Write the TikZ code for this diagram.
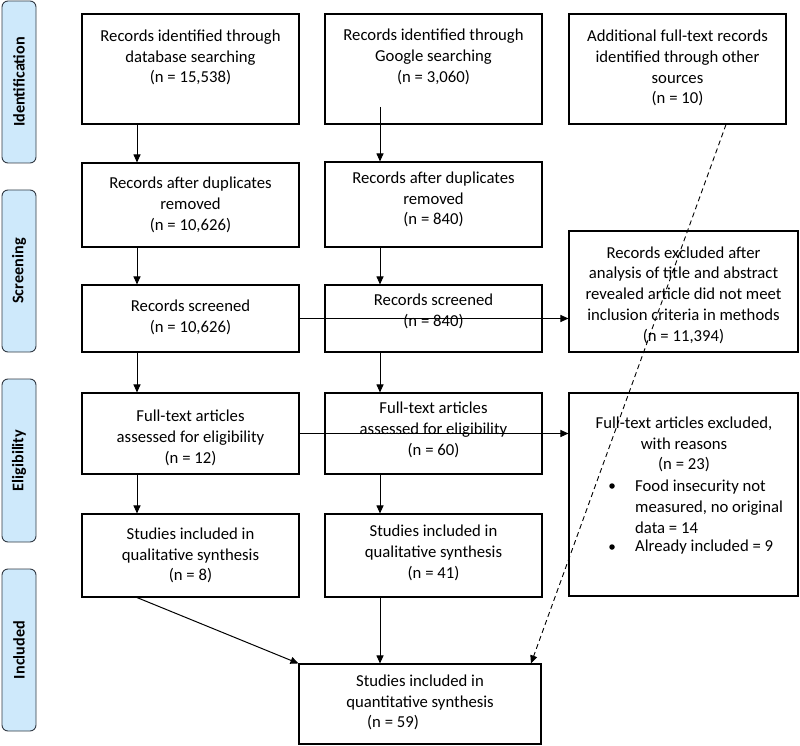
\documentclass[tikz,border=0pt]{standalone}
\usepackage{fontspec}
\setmainfont{Carlito}
\usetikzlibrary{arrows.meta,fit}
\definecolor{sidefill}{RGB}{206,233,251}
\definecolor{sideline}{RGB}{50,58,68}
\tikzset{
  box/.style={draw=black, line width=1.1pt, inner sep=0pt, rectangle},
  sidebar/.style={draw=sideline, fill=sidefill, line width=0.9pt, rounded corners=6pt, inner sep=0pt},
  sidetxt/.style={rotate=90, font=\bfseries\fontsize{16.2}{19}\selectfont, inner sep=0pt},
  txt/.style={align=center, inner sep=0pt, font=\fontsize{16.7}{20.8}\selectfont},
  ltxt/.style={align=left, anchor=west, inner sep=0pt, font=\fontsize{16.7}{20.8}\selectfont},
  dot/.style={circle, fill=black, inner sep=0pt, minimum size=5.5pt},
  arr/.style={line width=1pt, -{Triangle[length=8pt,width=7pt]}},
  darr/.style={line width=0.9pt, dash pattern=on 5pt off 3.5pt, -{Triangle[length=8pt,width=7pt]}}
}
\begin{document}
\begin{tikzpicture}[x=1pt,y=-1pt]
\useasboundingbox (0,0) rectangle (800,746);
% side bars
\node[sidebar, fit={(2,1) (36,163)}] (S1) {};
\node[sidebar, fit={(2,190) (36,352)}] (S2) {};
\node[sidebar, fit={(2,379) (36,542)}] (S3) {};
\node[sidebar, fit={(2,569) (36,731)}] (S4) {};
\node[sidetxt] (S1t) at (S1.center) {Identification};
\node[sidetxt] (S2t) at (S2.center) {Screening};
\node[sidetxt] (S3t) at (S3.center) {Eligibility};
\node[sidetxt] (S4t) at (S4.center) {Included};
% boxes
\node[box, fit={(82,14) (299,124)}] (L1) {};
\node[box, fit={(82,163) (299,247)}] (L2) {};
\node[box, fit={(82,285) (299,352)}] (L3) {};
\node[box, fit={(82,393) (299,474)}] (L4) {};
\node[box, fit={(82,514) (299,597)}] (L5) {};
\node[box, fit={(325,14) (542,124)}] (M1) {};
\node[box, fit={(325,162) (542,247)}] (M2) {};
\node[box, fit={(325,285) (542,352)}] (M3) {};
\node[box, fit={(325,393) (542,474)}] (M4) {};
\node[box, fit={(325,514) (542,597)}] (M5) {};
\node[box, fit={(569,14) (786,124)}] (R1) {};
\node[box, fit={(569,231) (798,352)}] (R2) {};
\node[box, fit={(569,393) (798,596)}] (R3) {};
\node[box, fit={(299,664) (541,744)}] (B) {};
% texts
\node[txt] (L1t) at (190.5,57.5) {Records identified through\\database searching\\{}(n = 15,538)};
\node[txt] (M1t) at (433.5,57) {Records identified through\\Google searching\\{}(n = 3,060)};
\node[txt] (R1t) at (677.5,68) {Additional full-text records\\identified through other\\sources\\{}(n = 10)};
\node[txt] (L2t) at (190.5,205) {Records after duplicates\\removed\\{}(n = 10,626)};
\node[txt] (M2t) at (433.5,199.5) {Records after duplicates\\removed\\{}(n = 840)};
\node[txt] (L3t) at (190.5,317.5) {Records screened\\{}(n = 10,626)};
\node[txt] (M3t) at (433.5,311) {Records screened\\{}(n = 840)};
\node[txt] (R2t) at (683.5,295) {Records excluded after\\analysis of title and abstract\\revealed article did not meet\\inclusion criteria in methods\\{}(n = 11,394)};
\node[txt] (L4t) at (190.5,438) {Full-text articles\\assessed for eligibility\\{}(n = 12)};
\node[txt] (M4t) at (433.5,430) {Full-text articles\\assessed for eligibility\\{}(n = 60)};
\node[txt] (R3t) at (684,444.5) {Full-text articles excluded,\\with reasons\\{}(n = 23)};
\node[ltxt] (R3a) at (635,506.5) {Food insecurity not\\measured, no original\\data = 14};
\node[ltxt] (R3b) at (635,547) {Already included = 9};
\node[dot] (R3d1) at (612,486) {};
\node[dot] (R3d2) at (612,547) {};
\node[txt] (L5t) at (190.5,555.5) {Studies included in\\qualitative synthesis\\{}(n = 8)};
\node[txt] (M5t) at (433.5,553) {Studies included in\\qualitative synthesis\\{}(n = 41)};
\node[txt] (Bt) at (420,702.5) {Studies included in\\quantitative synthesis\\{}(n = 59)\hspace*{54pt}};
% coordinates
\coordinate (cxL) at (137,0);
\coordinate (cxM) at (380,0);
\coordinate (m1s) at (380,107);
\coordinate (dx1) at (726,0);
\coordinate (dx2) at (531,0);
% arrows
\draw[arr] (L1.south -| cxL) -- (L2.north -| cxL);
\draw[arr] (L2.south -| cxL) -- (L3.north -| cxL);
\draw[arr] (L3.south -| cxL) -- (L4.north -| cxL);
\draw[arr] (L4.south -| cxL) -- (L5.north -| cxL);
\draw[arr] (m1s) -- (M2.north -| cxM);
\draw[arr] (M2.south -| cxM) -- (M3.north -| cxM);
\draw[arr] (M3.south -| cxM) -- (M4.north -| cxM);
\draw[arr] (M4.south -| cxM) -- (M5.north -| cxM);
\draw[arr] (L3.east) -- (L3.east -| R2.west);
\draw[arr] (L4.east) -- (L4.east -| R3.west);
\draw[arr] (L5.south -| cxL) -- (B.north west);
\draw[arr] (M5.south -| cxM) -- (B.north -| cxM);
\draw[darr] (R1.south -| dx1) -- (B.north -| dx2);
\end{tikzpicture}
\end{document}
